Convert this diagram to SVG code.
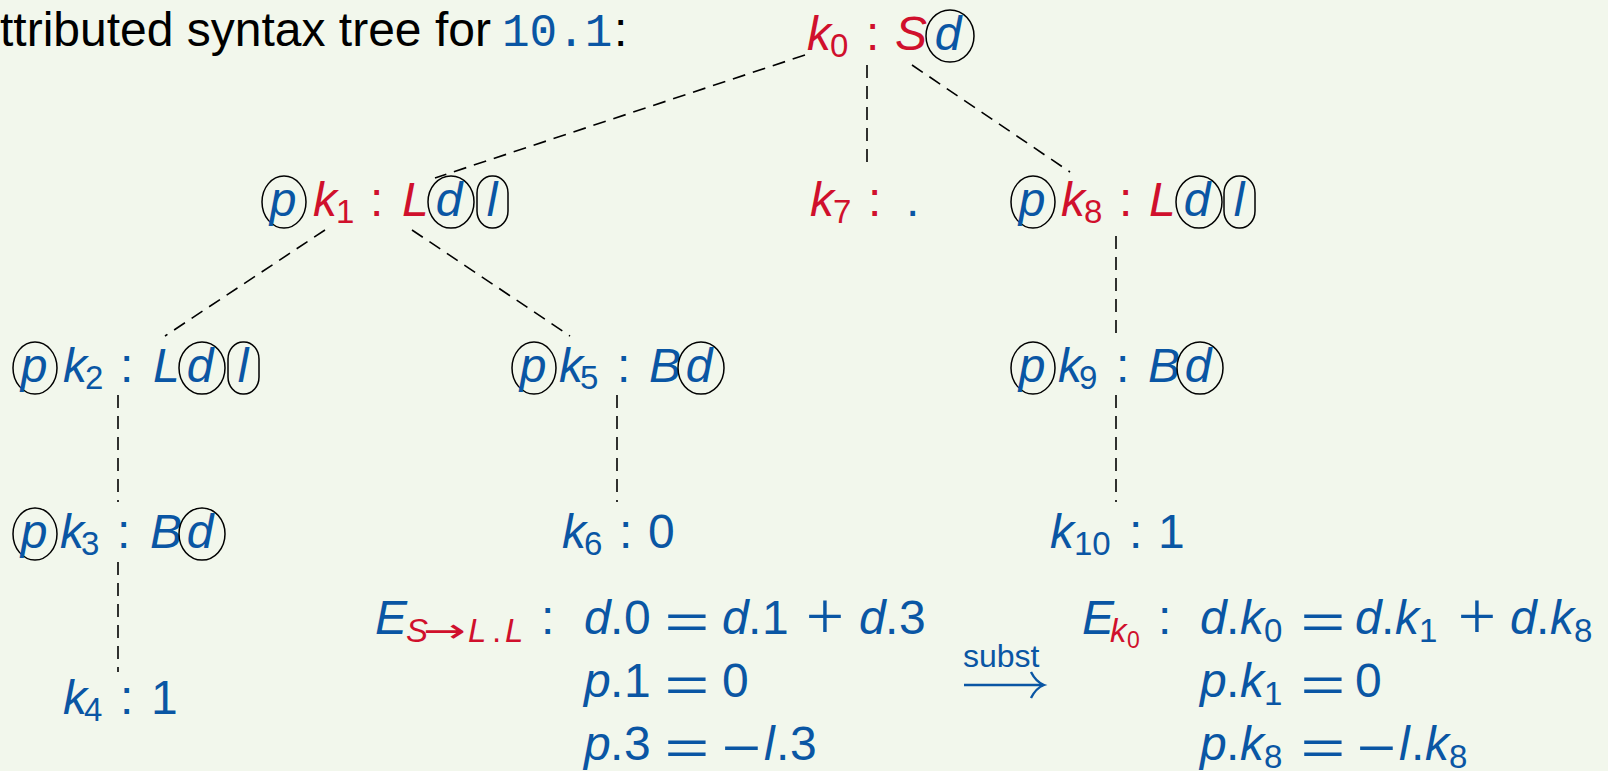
<svg xmlns="http://www.w3.org/2000/svg" width="1608" height="771" viewBox="0 0 1608 771">
<style>
text{font-family:"Liberation Sans",Arial,Helvetica,sans-serif;font-size:48px}
.i{font-style:italic}
.r{fill:#d0102c}
.b{fill:#0a56a4}
.k{fill:#000}
.s{font-size:33px}
.ss{font-size:23px}
.m{text-anchor:middle}
.o{fill:none;stroke:#000;stroke-width:1.5}
.dash{fill:none;stroke:#000;stroke-width:1.6;stroke-dasharray:13 8}
.tt{font-family:"Liberation Mono","DejaVu Sans Mono",monospace;font-size:46px}
.st{font-size:32px}
.pl{font-family:"Liberation Serif","Times New Roman",serif;font-size:68px;text-anchor:middle}
.ar{font-family:"DejaVu Sans",sans-serif;font-size:33px}
.arr{fill:none;stroke:#0a56a4;stroke-width:2.4}
</style>
<rect width="1608" height="771" fill="#f2f7ec"/>

<g id="title">
<text class="k" x="0" y="46">ttributed syntax tree for </text>
<text class="tt b" x="502" y="46">10.1</text>
<text class="k" x="614" y="46">:</text>
</g>

<g id="connectors">
<path class="dash" d="M805,55 L435,178"/>
<path class="dash" d="M867,65 L867,170"/>
<path class="dash" d="M912,65 L1070,172"/>
<path class="dash" d="M325,230 L165,336"/>
<path class="dash" d="M412,230 L570,336"/>
<path class="dash" d="M1116,236 L1116,338"/>
<path class="dash" d="M118,395 L118,502"/>
<path class="dash" d="M617,395 L617,502"/>
<path class="dash" d="M1116,395 L1116,502"/>
<path class="dash" d="M118,562 L118,672"/>
</g>

<g id="k0">
<text class="i r" x="807" y="50">k</text>
<text class="r s" x="830" y="57">0</text>
<text class="r" x="866" y="50">:</text>
<text class="i r" x="895" y="50">S</text>
<ellipse class="o" cx="950" cy="36" rx="24" ry="26"/>
<text class="i b m" x="948" y="50">d</text>
</g>

<g id="k1">
<ellipse class="o" cx="284" cy="202" rx="22" ry="26"/>
<text class="i b m" x="283" y="216">p</text>
<text class="i r" x="313" y="216">k</text>
<text class="r s" x="336" y="223">1</text>
<text class="r" x="370" y="216">:</text>
<text class="i r" x="402" y="216">L</text>
<ellipse class="o" cx="451" cy="202" rx="23" ry="26"/>
<text class="i b m" x="449" y="216">d</text>
<rect class="o" x="477" y="176" width="31" height="52" rx="15" ry="17"/>
<text class="i b m" x="492" y="216">l</text>
</g>

<g id="k7">
<text class="i r" x="810" y="216">k</text>
<text class="r s" x="833" y="223">7</text>
<text class="r" x="868" y="216">:</text>
<text class="b" x="906" y="216">.</text>
</g>

<g id="k8">
<ellipse class="o" cx="1033" cy="202" rx="22" ry="26"/>
<text class="i b m" x="1032" y="216">p</text>
<text class="i r" x="1061" y="216">k</text>
<text class="r s" x="1084" y="223">8</text>
<text class="r" x="1119" y="216">:</text>
<text class="i r" x="1149" y="216">L</text>
<ellipse class="o" cx="1199" cy="202" rx="23" ry="26"/>
<text class="i b m" x="1197" y="216">d</text>
<rect class="o" x="1224" y="176" width="31" height="52" rx="15" ry="17"/>
<text class="i b m" x="1239" y="216">l</text>
</g>

<g id="k2">
<ellipse class="o" cx="35" cy="368" rx="22" ry="26"/>
<text class="i b m" x="34" y="382">p</text>
<text class="i b" x="63" y="382">k</text>
<text class="b s" x="85" y="389">2</text>
<text class="b" x="120" y="382">:</text>
<text class="i b" x="153" y="382">L</text>
<ellipse class="o" cx="202" cy="368" rx="23" ry="26"/>
<text class="i b m" x="200" y="382">d</text>
<rect class="o" x="228" y="342" width="31" height="52" rx="15" ry="17"/>
<text class="i b m" x="243" y="382">l</text>
</g>

<g id="k5">
<ellipse class="o" cx="534" cy="368" rx="22" ry="26"/>
<text class="i b m" x="533" y="382">p</text>
<text class="i b" x="559" y="382">k</text>
<text class="b s" x="580" y="389">5</text>
<text class="b" x="617" y="382">:</text>
<text class="i b" x="649" y="382">B</text>
<ellipse class="o" cx="701" cy="368" rx="23" ry="26"/>
<text class="i b m" x="699" y="382">d</text>
</g>

<g id="k9">
<ellipse class="o" cx="1033" cy="368" rx="22" ry="26"/>
<text class="i b m" x="1032" y="382">p</text>
<text class="i b" x="1058" y="382">k</text>
<text class="b s" x="1079" y="389">9</text>
<text class="b" x="1116" y="382">:</text>
<text class="i b" x="1148" y="382">B</text>
<ellipse class="o" cx="1200" cy="368" rx="23" ry="26"/>
<text class="i b m" x="1198" y="382">d</text>
</g>

<g id="k3">
<ellipse class="o" cx="35" cy="534" rx="22" ry="26"/>
<text class="i b m" x="34" y="548">p</text>
<text class="i b" x="60" y="548">k</text>
<text class="b s" x="81" y="555">3</text>
<text class="b" x="117" y="548">:</text>
<text class="i b" x="150" y="548">B</text>
<ellipse class="o" cx="202" cy="534" rx="23" ry="26"/>
<text class="i b m" x="200" y="548">d</text>
</g>

<g id="k6">
<text class="i b" x="562" y="548">k</text>
<text class="b s" x="584" y="555">6</text>
<text class="b" x="619" y="548">:</text>
<text class="b" x="648" y="548">0</text>
</g>

<g id="k10">
<text class="i b" x="1050" y="548">k</text>
<text class="b s" x="1074" y="555">10</text>
<text class="b" x="1129" y="548">:</text>
<text class="b" x="1158" y="548">1</text>
</g>

<g id="k4">
<text class="i b" x="63" y="714">k</text>
<text class="b s" x="84" y="721">4</text>
<text class="b" x="120" y="714">:</text>
<text class="b" x="151" y="714">1</text>
</g>

<g id="eq-rule">
<text class="i b" x="375" y="634">E</text>
<text class="i r s" x="406" y="642">S</text>
<text class="ar r" transform="translate(423,642) scale(1.55,1)">→</text>
<text class="i r s" x="468" y="642">L</text>
<text class="r s" x="492" y="642">.</text>
<text class="i r s" x="505" y="642">L</text>
<text class="b" x="541" y="634">:</text>

<text class="i b" x="584" y="634">d</text><text class="b" x="610" y="634">.</text><text class="b" x="624" y="634">0</text>
<text class="b m" transform="translate(687,622) scale(1.6,1)" y="16">=</text>
<text class="i b" x="722" y="634">d</text><text class="b" x="748" y="634">.</text><text class="b" x="762" y="634">1</text>
<text class="b pl" transform="translate(825,622)" y="17">+</text>
<text class="i b" x="859" y="634">d</text><text class="b" x="885" y="634">.</text><text class="b" x="899" y="634">3</text>

<text class="i b" x="584" y="697">p</text><text class="b" x="610" y="697">.</text><text class="b" x="624" y="697">1</text>
<text class="b m" transform="translate(687,685) scale(1.6,1)" y="16">=</text>
<text class="b" x="722" y="697">0</text>

<text class="i b" x="584" y="760">p</text><text class="b" x="610" y="760">.</text><text class="b" x="624" y="760">3</text>
<text class="b m" transform="translate(687,748) scale(1.6,1)" y="16">=</text>
<text class="b m" transform="translate(741,748) scale(1.4,1)" y="16">−</text>
<text class="i b" x="764" y="760">l</text><text class="b" x="776" y="760">.</text><text class="b" x="790" y="760">3</text>
</g>

<g id="subst">
<text class="b st" x="963" y="667">subst</text>
<path class="arr" d="M964,685 L1043,685"/>
<path class="arr" d="M1031,672 Q1036,682 1044,685 Q1036,688 1031,698"/>
</g>

<g id="eq-node">
<text class="i b" x="1082" y="634">E</text>
<text class="i r s" x="1110" y="642">k</text>
<text class="r ss" x="1127" y="648">0</text>
<text class="b" x="1158" y="634">:</text>

<text class="i b" x="1200" y="634">d</text><text class="b" x="1226" y="634">.</text><text class="i b" x="1240" y="634">k</text><text class="b s" x="1264" y="642">0</text>
<text class="b m" transform="translate(1323,622) scale(1.6,1)" y="16">=</text>
<text class="i b" x="1355" y="634">d</text><text class="b" x="1381" y="634">.</text><text class="i b" x="1395" y="634">k</text><text class="b s" x="1419" y="642">1</text>
<text class="b pl" transform="translate(1477,622)" y="17">+</text>
<text class="i b" x="1510" y="634">d</text><text class="b" x="1536" y="634">.</text><text class="i b" x="1550" y="634">k</text><text class="b s" x="1574" y="642">8</text>

<text class="i b" x="1200" y="697">p</text><text class="b" x="1226" y="697">.</text><text class="i b" x="1240" y="697">k</text><text class="b s" x="1264" y="705">1</text>
<text class="b m" transform="translate(1323,685) scale(1.6,1)" y="16">=</text>
<text class="b" x="1355" y="697">0</text>

<text class="i b" x="1200" y="760">p</text><text class="b" x="1226" y="760">.</text><text class="i b" x="1240" y="760">k</text><text class="b s" x="1264" y="768">8</text>
<text class="b m" transform="translate(1323,748) scale(1.6,1)" y="16">=</text>
<text class="b m" transform="translate(1376,748) scale(1.4,1)" y="16">−</text>
<text class="i b" x="1399" y="760">l</text><text class="b" x="1411" y="760">.</text><text class="i b" x="1425" y="760">k</text><text class="b s" x="1449" y="768">8</text>
</g>
</svg>
